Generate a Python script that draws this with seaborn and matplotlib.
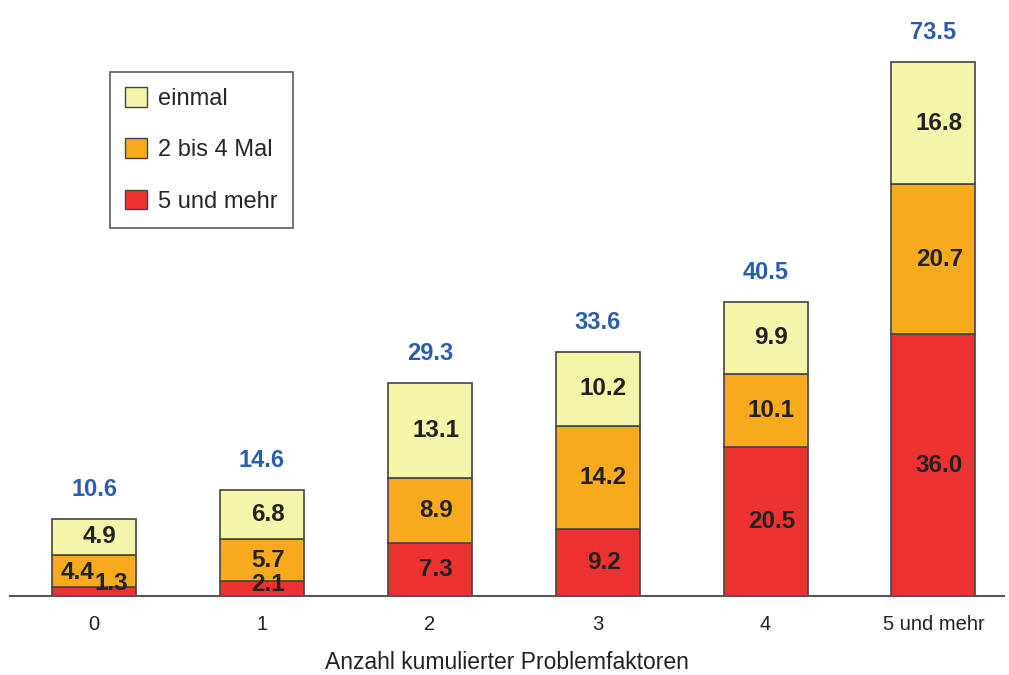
import numpy as np
import pandas as pd
import matplotlib
matplotlib.use("Agg")
import matplotlib.pyplot as plt
from matplotlib.patches import Patch
import seaborn as sns

sns.set_style("white")
plt.rcParams['font.family'] = ['Liberation Sans', 'DejaVu Sans']

# Data
categories = ["0", "1", "2", "3", "4", "5 und mehr"]
mehr5 = [1.3, 2.1, 7.3, 9.2, 20.5, 36.0]
mal2_4 = [4.4, 5.7, 8.9, 14.2, 10.1, 20.7]
einmal = [4.9, 6.8, 13.1, 10.2, 9.9, 16.8]
totals = [10.6, 14.6, 29.3, 33.6, 40.5, 73.5]
series_names = ["5 und mehr", "2 bis 4 Mal", "einmal"]

colors = {"5 und mehr": "#EE3232", "2 bis 4 Mal": "#F7AA1C", "einmal": "#F5F5AA"}

df = pd.DataFrame({"Kategorie": categories, "5 und mehr": mehr5,
                   "2 bis 4 Mal": mal2_4, "einmal": einmal})

fig = plt.figure(figsize=(10.09, 6.75), dpi=100)
ax = fig.add_axes([0.01, 0.117, 0.985, 0.861])

bottom = np.zeros(len(categories))
for name in series_names:
    sns.barplot(data=df, x="Kategorie", y=name, color=colors[name], bottom=bottom,
                width=0.5, edgecolor="#444444", linewidth=1.2, ax=ax, saturation=1)
    vals = df[name].values
    for i, v in enumerate(vals):
        x, y = i + 0.035, bottom[i] + v / 2
        # small first bar: labels pushed apart like in the original
        if i == 0 and name == "2 bis 4 Mal":
            x, y = i - 0.1, bottom[i] + v / 2 - 0.3
        elif i == 0 and name == "5 und mehr":
            x, y = i + 0.1, 1.7
        elif name == "5 und mehr" and v < 3:
            y = 1.6
        ax.text(x, y, f"{v:.1f}", ha="center", va="center", fontsize=17.5,
                fontweight="bold", color="#222222")
    bottom = bottom + vals

for i, t in enumerate(totals):
    ax.annotate(f"{t:.1f}", (i, t), xytext=(0, 13), textcoords="offset points",
                ha="center", va="bottom", fontsize=17, fontweight="bold",
                color="#2B5DAE")

ax.set_xlim(-0.5, 5.42)
ax.set_ylim(0, 80)
ax.set_yticks([])
ax.set_ylabel("")
ax.set_xlabel("Anzahl kumulierter Problemfaktoren", fontsize=16.5, color="#222222",
              labelpad=12)
ax.tick_params(axis="x", length=0, labelsize=14.5, colors="#222222", pad=14)
for s in ["left", "right", "top"]:
    ax.spines[s].set_visible(False)
ax.spines["bottom"].set_color("#555555")
ax.spines["bottom"].set_linewidth(1.5)

handles = [Patch(facecolor=colors[n], edgecolor="#444444", label=n)
           for n in ["einmal", "2 bis 4 Mal", "5 und mehr"]]
leg = ax.legend(handles=handles, loc="upper left", bbox_to_anchor=(0.1005, 0.902),
                fontsize=17, frameon=True, fancybox=False, edgecolor="#333333",
                handlelength=0.9, handleheight=0.9, labelspacing=1.2,
                borderpad=0.65, handletextpad=0.5, borderaxespad=0)
leg.get_frame().set_linewidth(1.2)

plt.savefig("out.png", dpi=100)
